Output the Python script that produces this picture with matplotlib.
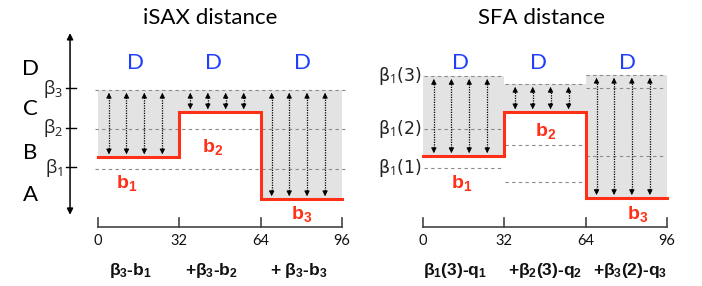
import numpy as np
import matplotlib.pyplot as plt

plt.rcParams['mathtext.fontset'] = 'custom'
plt.rcParams['mathtext.rm'] = 'Open Sans'
plt.rcParams['mathtext.it'] = 'Open Sans'
plt.rcParams['mathtext.bf'] = 'Liberation Sans:bold'

# segments of the series (x = time points)
seg_edges = [0, 32, 64, 96]
x_ticks = [0, 32, 64, 96]

# iSAX: breakpoints beta1..beta3 and the PAA values b1..b3
isax_breaks = [1.0, 2.0, 3.0]
isax_break_labels = [r'$\mathrm{β}_1$', r'$\mathrm{β}_2$', r'$\mathrm{β}_3$']
isax_letters = ['A', 'B', 'C', 'D']
isax_letter_y = [0.34, 1.41, 2.52, 3.53]
isax_b = [1.30, 2.44, 0.24]
isax_b_labels = [r'$\mathbf{b_1}$', r'$\mathbf{b_2}$', r'$\mathbf{b_3}$']
isax_b_label_xy = [(11.4, 0.65), (45.2, 1.56), (79.9, -0.14)]
isax_terms = [r'$\mathbf{β_3}$-$\mathbf{b_1}$', r'+$\mathbf{β_3}$-$\mathbf{b_2}$',
              r'+ $\mathbf{β_3}$-$\mathbf{b_3}$']
isax_term_x = [12.6, 44.8, 79.0]

# SFA: per-segment breakpoints (bottom to top) and Fourier values q1..q3
sfa_breaks = [[1.03, 2.01, 3.35], [0.67, 1.61, 3.15], [1.33, 3.05, 3.38]]
sfa_break_labels = ['β$_1$(1)', 'β$_1$(2)', 'β$_1$(3)']
sfa_q = [1.33, 2.44, 0.27]
sfa_b_label_xy = [(15.3, 0.65), (48.4, 1.96), (84.4, -0.14)]
sfa_terms = [r'$\mathbf{β_1}$(3)-$\mathbf{q_1}$', r'+$\mathbf{β_2}$(3)-$\mathbf{q_2}$',
             r'+$\mathbf{β_3}$(2)-$\mathbf{q_3}$']
sfa_term_x = [12.6, 48.2, 81.4]

arrow_pos = [4.3, 11.2, 18.2, 25.3]
D_x = [14.7, 45.6, 80.6]
D_y = 3.68

RED = '#ff3017'
BLUE = '#1f3fff'
GRAY = '#e3e3e3'
DASH = '#8a8a8a'

fig = plt.figure(figsize=(7.02, 2.86), dpi=100)
ax1 = fig.add_axes([0, 0, 0.5, 1])
ax2 = fig.add_axes([0.5, 0, 0.5, 1])
ax1.set_xlim(-38.55, 99.5)
ax2.set_xlim(-28.3, 109.8)
for ax in (ax1, ax2):
    ax.set_ylim(-1.962, 5.278)
    ax.axis('off')


def draw_arrows(ax, x0, top, bottom):
    for p in arrow_pos:
        x = x0 + p
        ax.vlines(x, bottom + 0.15, top - 0.15, color='black', lw=0.9, linestyles=(0, (1, 1)))
        ax.annotate('', xy=(x, top - 0.07), xytext=(x, top - 0.22),
                    arrowprops=dict(arrowstyle='-|>', color='black', lw=0.6,
                                    mutation_scale=8, shrinkA=0, shrinkB=0))
        ax.annotate('', xy=(x, bottom + 0.07), xytext=(x, bottom + 0.22),
                    arrowprops=dict(arrowstyle='-|>', color='black', lw=0.6,
                                    mutation_scale=8, shrinkA=0, shrinkB=0))


def draw_time_axis(ax, terms, term_x):
    ax.plot([seg_edges[0], seg_edges[-1]], [-0.47, -0.47], color='#444444', lw=1.2)
    for t in x_ticks:
        ax.plot([t, t], [-0.47, -0.25], color='#444444', lw=1.2)
        ax.text(t, -0.82, str(t), ha='center', va='center', fontsize=10.5,
                family='Lato', color='#111111')
    for s, x in zip(terms, term_x):
        ax.text(x, -1.57, s, ha='center', va='center', fontsize=12.5,
                family='Liberation Sans', fontweight='bold', color='#111111')


def draw_step(ax, vals):
    xs, ys = [], []
    for i, v in enumerate(vals):
        xs += [seg_edges[i], seg_edges[i + 1]]
        ys += [v, v]
    ax.plot(xs, ys, color=RED, lw=2.2, solid_joinstyle='miter', zorder=4)


# ---------- iSAX ----------
top = isax_breaks[-1]
for i, v in enumerate(isax_b):
    ax1.fill_between([seg_edges[i], seg_edges[i + 1]], v, top, color=GRAY, lw=0, zorder=0)
for b in isax_breaks:
    ax1.plot([-1.2, 98.5], [b, b], color=DASH, lw=0.8, ls=(0, (3, 3)), zorder=1)
for i, v in enumerate(isax_b):
    draw_arrows(ax1, seg_edges[i], top, v)
draw_step(ax1, isax_b)

# value axis with arrows
ax1.annotate('', xy=(-11, 4.44), xytext=(-11, -0.16),
             arrowprops=dict(arrowstyle='<|-|>', color='black', lw=1.1,
                             mutation_scale=9, shrinkA=0, shrinkB=0))
for b, lab in zip(isax_breaks, isax_break_labels):
    ax1.plot([-12.6, -8.7], [b + 0.05, b + 0.05], color='black', lw=1)
    ax1.text(-13.8, b + 0.03, lab, ha='right', va='center', fontsize=13, color='#222222')
for l, y in zip(isax_letters, isax_letter_y):
    ax1.text(-26.7, y, l, ha='center', va='center', fontsize=16, family='Lato')

for x, lab, (lx, ly) in zip(D_x, isax_b_labels, isax_b_label_xy):
    ax1.text(x, D_y, 'D', color=BLUE, ha='center', va='center', fontsize=16, family='Lato')
    ax1.text(lx, ly, lab, color=RED, ha='center', va='center', fontsize=14)
ax1.text(44.3, 4.82, 'iSAX distance', ha='center', va='center', fontsize=16, family='Lato')
draw_time_axis(ax1, isax_terms, isax_term_x)

# ---------- SFA ----------
for i, v in enumerate(sfa_q):
    stop = sfa_breaks[i][-1]
    x0, x1 = seg_edges[i], seg_edges[i + 1]
    ax2.fill_between([x0, x1], v, stop, color=GRAY, lw=0, zorder=0)
    for b in sfa_breaks[i]:
        ax2.plot([x0 + 0.3, x1 - 0.3], [b, b], color=DASH, lw=0.8, ls=(0, (3, 3)), zorder=1)
    draw_arrows(ax2, x0, stop, v)
draw_step(ax2, sfa_q)

for b, lab in zip(sfa_breaks[0], sfa_break_labels):
    ax2.text(-0.4, b, lab, ha='right', va='center', fontsize=12.5, color='#222222')

for x, lab, (lx, ly) in zip(D_x, isax_b_labels, sfa_b_label_xy):
    ax2.text(x, D_y, 'D', color=BLUE, ha='center', va='center', fontsize=16, family='Lato')
    ax2.text(lx, ly, lab, color=RED, ha='center', va='center', fontsize=14)
ax2.text(46.5, 4.82, 'SFA distance', ha='center', va='center', fontsize=16, family='Lato')
draw_time_axis(ax2, sfa_terms, sfa_term_x)

fig.savefig('out.png', dpi=100)
